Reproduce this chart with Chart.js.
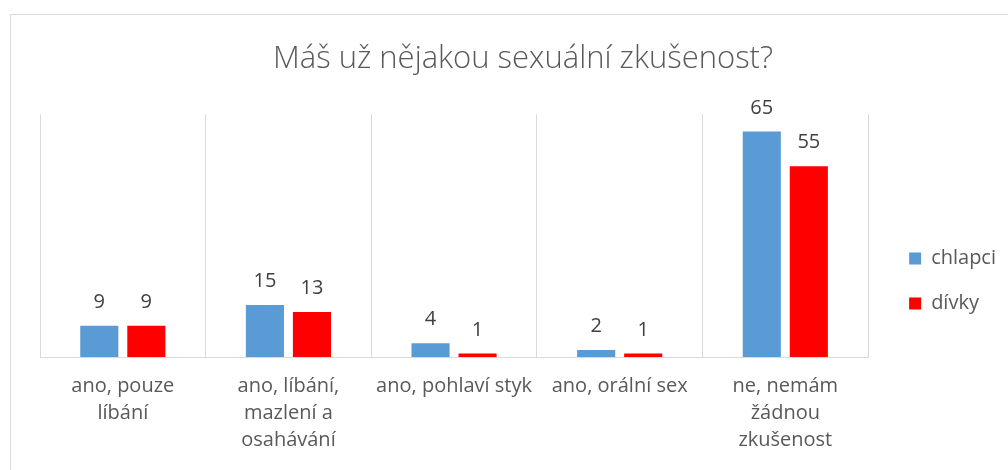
<!DOCTYPE html>
<html>
<head>
<meta charset="utf-8">
<script src="https://cdn.jsdelivr.net/npm/chart.js@4"></script>
<style>
  html, body { margin: 0; padding: 0; background: #fff; overflow: hidden; width: 1008px; height: 470px; }
  #wrap { position: relative; width: 1008px; height: 470px; overflow: hidden; }
  #frame { position: absolute; left: 10px; top: 14px; width: 1100px; height: 533px; border: 1px solid #d9d9d9; }
  #chart { position: absolute; left: 0; top: 0; }
</style>
</head>
<body>
<div id="wrap">
  <div id="frame"></div>
  <canvas id="chart" width="1008" height="548"></canvas>
</div>
<script>
const categories = [
  ["ano, pouze", "líbání"],
  ["ano, líbání,", "mazlení a", "osahávání"],
  "ano, pohlaví styk",
  "ano, orální sex",
  ["ne, nemám", "žádnou", "zkušenost"]
];
const seriesNames = ["chlapci", "dívky"];
const boys = [9, 15, 4, 2, 65];
const girls = [9, 13, 1, 1, 55];

const fontName = "'Open Sans', 'DejaVu Sans', sans-serif";

// value labels above the bars
const barLabels = {
  id: "barLabels",
  afterDatasetsDraw(chart) {
    const ctx = chart.ctx;
    ctx.save();
    ctx.font = "20px " + fontName;
    ctx.fillStyle = "#404040";
    ctx.textAlign = "center";
    ctx.textBaseline = "alphabetic";
    chart.data.datasets.forEach((ds, i) => {
      chart.getDatasetMeta(i).data.forEach((bar, j) => {
        ctx.fillText(String(ds.data[j]), bar.x, bar.y - 18);
      });
    });
    ctx.restore();
  }
};

const ctx = document.getElementById("chart").getContext("2d");
new Chart(ctx, {
  type: "bar",
  data: {
    labels: categories,
    datasets: [
      { label: seriesNames[0], data: boys, backgroundColor: "#5B9BD5" },
      { label: seriesNames[1], data: girls, backgroundColor: "#FF0000" }
    ]
  },
  options: {
    responsive: false,
    animation: false,
    devicePixelRatio: 1,
    datasets: {
      bar: { categoryPercentage: 0.568, barPercentage: 0.81 }
    },
    layout: { padding: { left: 40, top: 14, right: 2, bottom: 0 } },
    plugins: {
      title: {
        display: true,
        text: "Máš už nějakou sexuální zkušenost?",
        color: "#595959",
        font: { family: fontName, size: 31, weight: "300", lineHeight: 1.2 },
        padding: { top: 27, bottom: 36 }
      },
      legend: {
        position: "right",
        align: "center",
        labels: {
          boxWidth: 12,
          boxHeight: 12,
          padding: 25,
          color: "#595959",
          font: { family: fontName, size: 20 }
        }
      },
      tooltip: { enabled: false }
    },
    scales: {
      x: {
        grid: { color: "#d9d9d9", drawTicks: false, offset: true },
        border: { color: "#d9d9d9" },
        ticks: {
          color: "#595959",
          font: { family: fontName, size: 20, lineHeight: 1.35 },
          padding: 16,
          maxRotation: 0,
          autoSkip: false
        },
        afterFit(scale) { scale.height = 191; }
      },
      y: {
        position: "right",
        min: 0,
        max: 70,
        grid: { display: false },
        border: { display: false },
        ticks: { display: false },
        afterFit(scale) { scale.width = 16; }
      }
    }
  },
  plugins: [barLabels]
});
</script>
</body>
</html>
